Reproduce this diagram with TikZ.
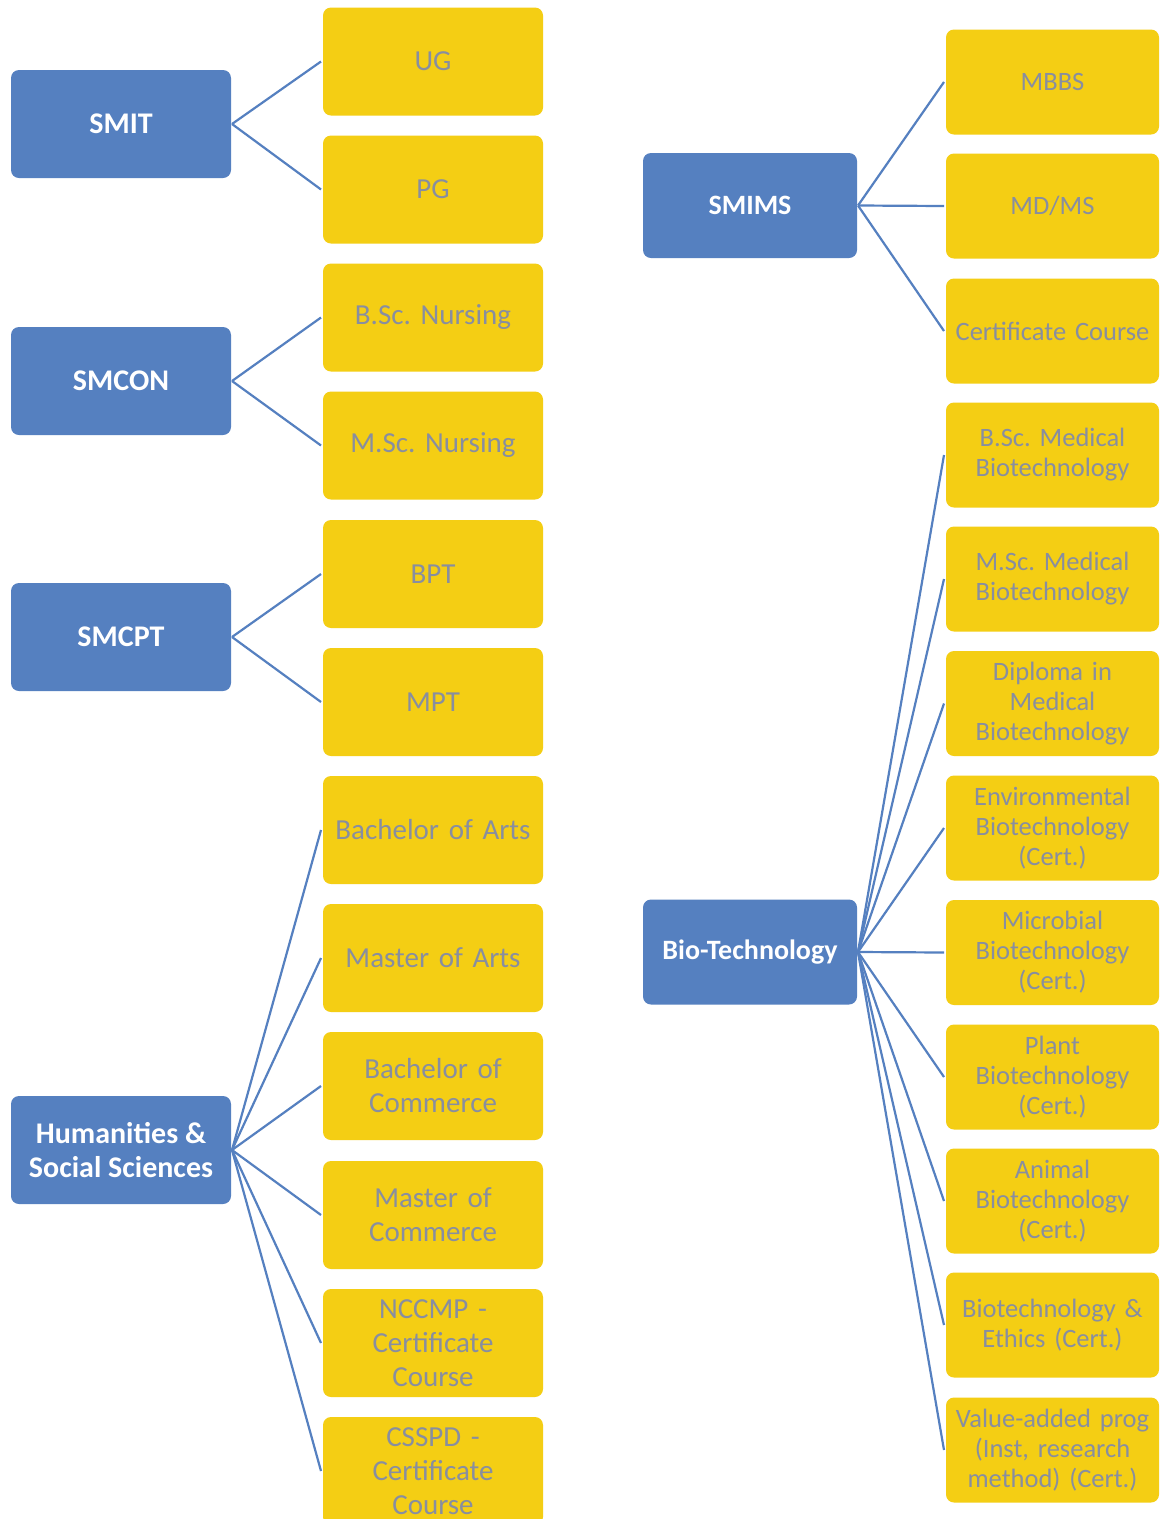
\documentclass[tikz,border=0pt]{standalone}
\usepackage{fontspec}
\setmainfont{Carlito}
\frenchspacing
\definecolor{bblue}{RGB}{85,128,192}
\definecolor{byel}{RGB}{244,206,20}
\definecolor{tgrey}{RGB}{136,142,160}
\tikzset{
  every node/.style={inner sep=0pt, outer sep=0pt},
  headL/.style={rectangle, rounded corners=8pt, fill=bblue, text=white, minimum width=220pt, minimum height=108pt, align=center, font=\fontsize{30}{34}\selectfont\bfseries},
  itemL/.style={rectangle, rounded corners=8pt, fill=byel, text=tgrey, minimum width=220pt, minimum height=108pt, text width=216pt, align=center, font=\fontsize{29}{34}\selectfont},
  headR/.style={rectangle, rounded corners=8pt, fill=bblue, text=white, minimum width=214pt, minimum height=105pt, align=center, font=\fontsize{28}{31}\selectfont\bfseries},
  itemR/.style={rectangle, rounded corners=8pt, fill=byel, text=tgrey, minimum width=213pt, minimum height=105pt, text width=211pt, align=center, font=\fontsize{26.5}{30}\selectfont},
  link/.style={draw=bblue, line width=2.2pt}
}
\begin{document}
\begin{tikzpicture}[x=1pt, y=-1pt]
\clip (0,0) rectangle (1162,1519);
\fill[white] (0,0) rectangle (1162,1519);
% left heads
\node[headL] (smit) at (121,124) {SMIT};
\node[headL] (smcon) at (121,381) {SMCON};
\node[headL] (smcpt) at (121,637) {SMCPT};
\node[headL] (hss) at (121,1150) {Humanities \&\\Social Sciences};
% left items
\node[itemL] (ug) at (433,61.5) {UG};
\node[itemL] (pg) at (433,189.5) {PG};
\node[itemL] (bscn) at (433,317.5) {B.Sc. Nursing};
\node[itemL] (mscn) at (433,445.5) {M.Sc. Nursing};
\node[itemL] (bpt) at (433,574) {BPT};
\node[itemL] (mpt) at (433,702) {MPT};
\node[itemL] (ba) at (433,830) {Bachelor of Arts};
\node[itemL] (ma) at (433,958) {Master of Arts};
\node[itemL] (bcom) at (433,1086) {Bachelor of\\Commerce};
\node[itemL] (mcom) at (433,1215) {Master of\\Commerce};
\node[itemL] (nccmp) at (433,1343) {NCCMP -\\Certificate\\Course};
\node[itemL] (csspd) at (433,1471) {CSSPD -\\Certificate\\Course};
% right heads
\node[headR] (smims) at (750,205.5) {SMIMS};
\node[headR] (bio) at (750,952) {Bio-Technology};
% right items
\node[itemR] (mbbs) at (1052.5,82) {MBBS};
\node[itemR] (mdms) at (1052.5,206) {MD/MS};
\node[itemR] (cert) at (1052.5,331) {Certificate Course};
\node[itemR] (bscmb) at (1052.5,455) {B.Sc. Medical\\Biotechnology};
\node[itemR] (mscmb) at (1052.5,579) {M.Sc. Medical\\Biotechnology};
\node[itemR] (dip) at (1052.5,703.5) {Diploma in\\Medical\\Biotechnology};
\node[itemR] (env) at (1052.5,828) {Environmental\\Biotechnology\\(Cert.)};
\node[itemR] (mic) at (1052.5,952.5) {Microbial\\Biotechnology\\(Cert.)};
\node[itemR] (pla) at (1052.5,1077) {Plant\\Biotechnology\\(Cert.)};
\node[itemR] (ani) at (1052.5,1201) {Animal\\Biotechnology\\(Cert.)};
\node[itemR] (eth) at (1052.5,1325) {Biotechnology \&\\Ethics (Cert.)};
\node[itemR] (val) at (1052.5,1450) {Value-added prog\\(Inst, research\\method) (Cert.)};
% links
\foreach \c in {ug,pg} \draw[link] ([xshift=1pt]smit.east) -- ([xshift=-2pt]\c.west);
\foreach \c in {bscn,mscn} \draw[link] ([xshift=1pt]smcon.east) -- ([xshift=-2pt]\c.west);
\foreach \c in {bpt,mpt} \draw[link] ([xshift=1pt]smcpt.east) -- ([xshift=-2pt]\c.west);
\foreach \c in {ba,ma,bcom,mcom,nccmp,csspd} \draw[link] ([xshift=1pt]hss.east) -- ([xshift=-2pt]\c.west);
\foreach \c in {mbbs,mdms,cert} \draw[link] ([xshift=1pt]smims.east) -- ([xshift=-2pt]\c.west);
\foreach \c in {bscmb,mscmb,dip,env,mic,pla,ani,eth,val} \draw[link] ([xshift=1pt]bio.east) -- ([xshift=-2pt]\c.west);
\end{tikzpicture}
\end{document}
